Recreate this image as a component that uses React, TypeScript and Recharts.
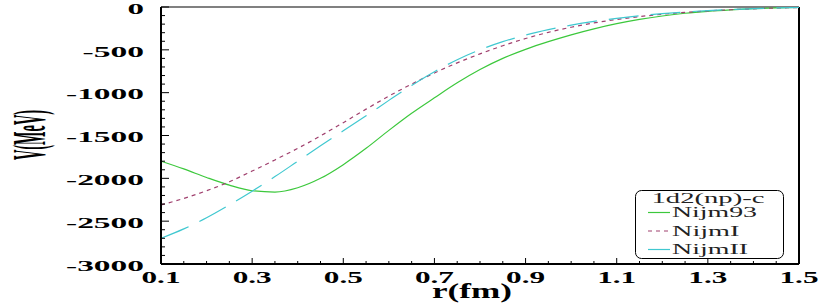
import { LineChart, Line, XAxis, YAxis, Legend, ReferenceLine } from 'recharts';

// r (fm) and V (MeV)
const r = [0.1, 0.15, 0.2, 0.25, 0.3, 0.35, 0.4, 0.45, 0.5, 0.55, 0.6, 0.65, 0.7, 0.75, 0.8, 0.85, 0.9, 0.95, 1.0, 1.05, 1.1, 1.15, 1.2, 1.25, 1.3, 1.35, 1.4, 1.45, 1.5];
const nijm93 = [-1800, -1890, -1990, -2080, -2145, -2160, -2110, -2000, -1840, -1650, -1440, -1240, -1060, -885, -730, -600, -495, -405, -325, -255, -195, -145, -105, -73, -50, -33, -20, -11, -5];
const nijmI = [-2310, -2235, -2145, -2040, -1915, -1785, -1650, -1505, -1350, -1192, -1040, -900, -770, -652, -547, -452, -368, -296, -236, -186, -146, -112, -85, -63, -46, -32, -21, -12, -6];
const nijmII = [-2700, -2590, -2460, -2310, -2150, -1980, -1800, -1620, -1445, -1270, -1090, -915, -755, -615, -500, -405, -328, -265, -212, -168, -132, -102, -78, -58, -42, -29, -19, -11, -5];

const xLabelTicks = [0.1, 0.3, 0.5, 0.7, 0.9, 1.1, 1.3, 1.5];
const xMinorTicks = [0.1, 0.15, 0.2, 0.25, 0.3, 0.35, 0.4, 0.45, 0.5, 0.55, 0.6, 0.65, 0.7, 0.75, 0.8, 0.85, 0.9, 0.95, 1.0, 1.05, 1.1, 1.15, 1.2, 1.25, 1.3, 1.35, 1.4, 1.45, 1.5];
const yLabelTicks = [-3000, -2500, -2000, -1500, -1000, -500, 0];
const yMinorTicks = [-3000, -2900, -2800, -2700, -2600, -2500, -2400, -2300, -2200, -2100, -2000, -1900, -1800, -1700, -1600, -1500, -1400, -1300, -1200, -1100, -1000, -900, -800, -700, -600, -500, -400, -300, -200, -100, 0];

const legendTitle = '1d2(np)-c';

const data = r.map((x, i) => ({ r: x, nijm93: nijm93[i], nijmI: nijmI[i], nijmII: nijmII[i] }));

const serif = "'Liberation Serif', 'Times New Roman', serif";
const xDomain = [0.1, 1.5];
const yDomain = [-3000, 0];

// the source figure is stretched sideways, so text gets a forced length
const tickTextWidth = (s: string) =>
  s.split('').reduce((w, c) => w + (c === '-' ? 12 : c === '.' ? 6 : 16.5), 0);

const YTick = ({ x, y, payload }: any) => {
  const v = payload.value;
  const major = yLabelTicks.includes(v);
  const label = String(v);
  return (
    <g>
      <line x1={x} x2={x + (major ? 8 : 4)} y1={y} y2={y} stroke="#000" />
      {major && (
        <text
          x={x - 17}
          y={y}
          dy="0.45em"
          textAnchor="end"
          textLength={tickTextWidth(label)}
          lengthAdjust="spacingAndGlyphs"
          fontFamily={serif}
          fontWeight="bold"
          fontSize={15}
          fill="#000"
        >
          {label}
        </text>
      )}
    </g>
  );
};

const XTick = ({ x, y, payload }: any) => {
  const v = payload.value;
  const major = xLabelTicks.includes(v);
  const label = String(v);
  return (
    <g>
      <line x1={x} x2={x} y1={y} y2={y - (major ? 6 : 3)} stroke="#000" />
      {major && (
        <text
          x={x}
          y={y + 8}
          dy="0.71em"
          textAnchor="middle"
          textLength={tickTextWidth(label)}
          lengthAdjust="spacingAndGlyphs"
          fontFamily={serif}
          fontWeight="bold"
          fontSize={16}
          fill="#000"
        >
          {label}
        </text>
      )}
    </g>
  );
};

const YTitle = () => (
  <text
    transform="translate(45,135) rotate(-90)"
    textAnchor="middle"
    textLength={50}
    lengthAdjust="spacingAndGlyphs"
    fontFamily={serif}
    fontWeight="bold"
    fontSize={46}
    fill="#000"
  >
    V(MeV)
  </text>
);

const XTitle = () => (
  <text
    x={472}
    y={298}
    textAnchor="middle"
    textLength={80}
    lengthAdjust="spacingAndGlyphs"
    fontFamily={serif}
    fontWeight="bold"
    fontSize={20}
    fill="#000"
  >
    r(fm)
  </text>
);

const legendTextWidth = (s: string) =>
  s.split('').reduce((w, c) => w + ('Nm'.includes(c) ? 21 : 'ijI()-'.includes(c) ? 8.5 : 13), 0);

const LegendBox = ({ payload }: any) => (
  <svg width={150} height={70} style={{ display: 'block' }}>
    <rect x={0.5} y={0.5} width={148} height={68} rx={6} fill="#fff" stroke="#000" />
    <text
      x={73}
      y={12.5}
      textAnchor="middle"
      textLength={113}
      lengthAdjust="spacingAndGlyphs"
      fontFamily={serif}
      fontSize={14}
      fill="#222"
    >
      {legendTitle}
    </text>
    {(payload || []).map((p: any, i: number) => {
      const base = 27 + i * 18.5;
      const dash = p.payload?.strokeDasharray;
      return (
        <g key={p.value}>
          <line
            x1={13}
            x2={35}
            y1={base - 4.5}
            y2={base - 4.5}
            stroke={p.color}
            strokeWidth={1.2}
            strokeDasharray={dash === '4 4' ? '4 4' : undefined}
          />
          <text
            x={37}
            y={base}
            textLength={legendTextWidth(p.value)}
            lengthAdjust="spacingAndGlyphs"
            fontFamily={serif}
            fontSize={14}
            fill="#222"
          >
            {p.value}
          </text>
        </g>
      );
    })}
  </svg>
);

export default function App() {
  return (
    <div style={{ position: 'absolute', left: 0, top: 0 }}>
      <LineChart width={830} height={306} data={data} margin={{ top: 7, right: 31, bottom: 0, left: 0 }}>
        <XAxis
          dataKey="r"
          type="number"
          domain={xDomain}
          allowDataOverflow
          ticks={xMinorTicks}
          interval={0}
          tickLine={false}
          tickSize={0}
          tickMargin={0}
          tick={XTick}
          axisLine={{ stroke: '#000', strokeWidth: 2 }}
          height={42}
          label={{ content: XTitle }}
        />
        <YAxis
          type="number"
          domain={yDomain}
          allowDataOverflow
          ticks={yMinorTicks}
          interval={0}
          width={161}
          tickLine={false}
          tickSize={0}
          tickMargin={0}
          tick={YTick}
          axisLine={{ stroke: '#000', strokeWidth: 2 }}
          label={{ content: YTitle }}
        />
        <ReferenceLine y={0} stroke="#808080" strokeWidth={2} />
        <ReferenceLine x={1.5} stroke="#000" strokeWidth={2} />
        <Line
          name="Nijm93"
          dataKey="nijm93"
          type="monotone"
          stroke="#3cc83c"
          strokeWidth={1.2}
          dot={false}
          isAnimationActive={false}
        />
        <Line
          name="NijmI"
          dataKey="nijmI"
          type="monotone"
          stroke="#a0406e"
          strokeWidth={1.2}
          strokeDasharray="4 4"
          dot={false}
          isAnimationActive={false}
        />
        <Line
          name="NijmII"
          dataKey="nijmII"
          type="monotone"
          stroke="#40c8d0"
          strokeWidth={1.2}
          strokeDasharray="30 12"
          dot={false}
          isAnimationActive={false}
        />
        <Legend
          layout="vertical"
          align="center"
          verticalAlign="middle"
          wrapperStyle={{ left: 635, top: 190, width: 150, height: 70 }}
          content={LegendBox}
        />
      </LineChart>
    </div>
  );
}
